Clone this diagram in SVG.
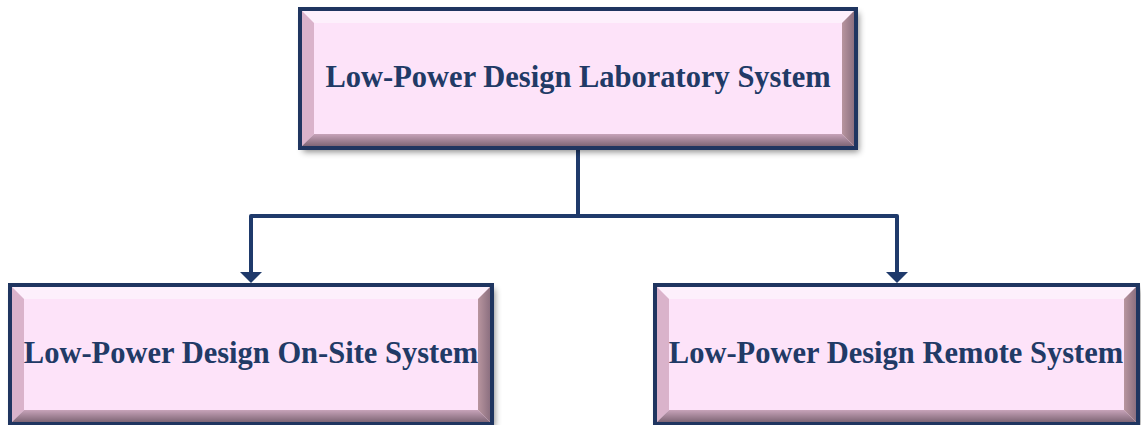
<svg xmlns="http://www.w3.org/2000/svg" width="1141" height="425" viewBox="0 0 1141 425">
<style>
.face{fill:#fde3f9}
.bt{fill:#fdf0fc}
.bl{fill:#dab3cb}
.bb{fill:url(#gb)}
.br{fill:url(#gr)}
.frame{fill:none;stroke:#1f3560;stroke-width:4}
.lbl{font-family:"Liberation Serif","Times New Roman",serif;font-weight:bold;font-size:30.5px;fill:#213a66;text-anchor:middle}
.conn{fill:none;stroke:#1f3a6b;stroke-width:4;stroke-linejoin:round}
</style>
<defs>
<linearGradient id="gb" x1="0" y1="0" x2="0" y2="1">
<stop offset="0" stop-color="#c7a3b9"/>
<stop offset="1" stop-color="#7f6676"/>
</linearGradient>
<linearGradient id="gr" x1="0" y1="0" x2="1" y2="0">
<stop offset="0" stop-color="#b8959f"/>
<stop offset="1" stop-color="#8c7080"/>
</linearGradient>
<filter id="sh" x="-5%" y="-10%" width="115%" height="130%">
<feDropShadow dx="3" dy="4" stdDeviation="3" flood-color="#000" flood-opacity="0.45"/>
</filter>
<marker id="ah" markerWidth="22" markerHeight="11" refX="11" refY="11" orient="auto-start-reverse" markerUnits="userSpaceOnUse" viewBox="0 0 22 11">
<path d="M0,0 L22,0 L11,11 Z" fill="#1f3a6b"/>
</marker>
</defs>

<g id="connectors">
<path class="conn" d="M578,150 V216 H251 V272"/>
<path class="conn" d="M578,216 H897 V272"/>
<path d="M240,272 L262,272 L251,283 Z" fill="#1f3a6b"/>
<path d="M886,272 L908,272 L897,283 Z" fill="#1f3a6b"/>
</g>

<g id="node-lab">
<rect x="300" y="9" width="556" height="139" class="face" filter="url(#sh)"/>
<polygon class="bt" points="302,11 854,11 842,23 314,23"/>
<polygon class="bl" points="302,11 314,23 314,134 302,146"/>
<polygon class="bb" points="302,146 314,134 842,134 854,146"/>
<polygon class="br" points="854,11 854,146 842,134 842,23"/>
<rect x="300" y="9" width="556" height="139" class="frame"/>
<text x="578" y="87" class="lbl">Low-Power Design Laboratory System</text>
</g>

<g id="node-onsite">
<rect x="10" y="285" width="482" height="139" class="face" filter="url(#sh)"/>
<polygon class="bt" points="12,287 490,287 478,299 24,299"/>
<polygon class="bl" points="12,287 24,299 24,410 12,422"/>
<polygon class="bb" points="12,422 24,410 478,410 490,422"/>
<polygon class="br" points="490,287 490,422 478,410 478,299"/>
<rect x="10" y="285" width="482" height="139" class="frame"/>
<text x="251" y="363" class="lbl">Low-Power Design On-Site System</text>
</g>

<g id="node-remote">
<rect x="655" y="285" width="483" height="139" class="face" filter="url(#sh)"/>
<polygon class="bt" points="657,287 1136,287 1124,299 669,299"/>
<polygon class="bl" points="657,287 669,299 669,410 657,422"/>
<polygon class="bb" points="657,422 669,410 1124,410 1136,422"/>
<polygon class="br" points="1136,287 1136,422 1124,410 1124,299"/>
<rect x="655" y="285" width="483" height="139" class="frame"/>
<text x="896" y="363" class="lbl">Low-Power Design Remote System</text>
</g>
</svg>
